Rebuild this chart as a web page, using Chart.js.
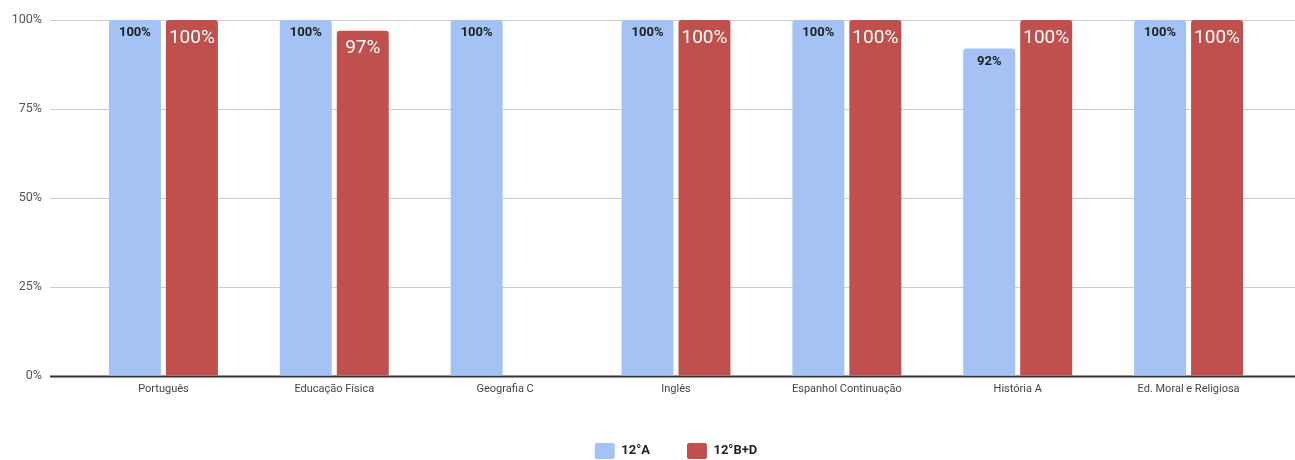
<!DOCTYPE html>
<html>
<head>
<meta charset="utf-8">
<script src="https://cdn.jsdelivr.net/npm/chart.js@4/dist/chart.umd.min.js"></script>
<style>
  html, body { margin: 0; padding: 0; background: #fff; overflow: hidden; }
  #wrap { width: 1295px; height: 469px; }
</style>
</head>
<body>
<div id="wrap"><canvas id="chartNotas" width="1295" height="469"></canvas></div>
<script>
const disciplinas = [
  "Português",
  "Educação Física",
  "Geografia C",
  "Inglês",
  "Espanhol Continuação",
  "História A",
  "Ed. Moral e Religiosa",
];
const turmaA = [100, 100, 100, 100, 100, 92, 100];
const turmaBD = [100, 97, null, 100, 100, 100, 100];
const yTicks = [0, 25, 50, 75, 100];

const AZUL = "#a4c2f4";
const VERMELHO = "#bf504d";

// linhas horizontais a toda a largura (como no Google Sheets)
const gridPlugin = {
  id: "gridLargo",
  beforeDatasetsDraw(chart) {
    const ctx = chart.ctx;
    const y = chart.scales.y;
    ctx.save();
    yTicks.forEach((t) => {
      const py = Math.round(y.getPixelForValue(t)) + 0.5;
      ctx.beginPath();
      ctx.strokeStyle = t === 0 ? "#333333" : "#cccccc";
      ctx.lineWidth = t === 0 ? 2 : 1;
      ctx.moveTo(50, py);
      ctx.lineTo(chart.width, py);
      ctx.stroke();
    });
    ctx.restore();
  },
};

// rótulos dentro das barras
const rotulosPlugin = {
  id: "rotulos",
  afterDatasetsDraw(chart) {
    const ctx = chart.ctx;
    ctx.save();
    ctx.textAlign = "center";
    ctx.textBaseline = "middle";
    chart.data.datasets.forEach((ds, i) => {
      const meta = chart.getDatasetMeta(i);
      meta.data.forEach((bar, j) => {
        const v = ds.data[j];
        if (v === null || v === undefined) return;
        if (i === 0) {
          ctx.font = "bold 13px Roboto";
          ctx.fillStyle = "#202124";
          ctx.fillText(v + "%", bar.x, bar.y + 13);
        } else {
          ctx.font = "19px Roboto";
          ctx.fillStyle = "#ffffff";
          ctx.fillText(v + "%", bar.x, bar.y + 18);
        }
      });
    });
    ctx.restore();
  },
};

const ctx = document.getElementById("chartNotas").getContext("2d");
const grafico = new Chart(ctx, {
  type: "bar",
  data: {
    labels: disciplinas,
    datasets: [
      {
        label: "12°A",
        data: turmaA,
        backgroundColor: AZUL,
        borderRadius: { topLeft: 3, topRight: 3 },
        borderSkipped: "start",
      },
      {
        label: "12°B+D",
        data: turmaBD,
        backgroundColor: VERMELHO,
        borderRadius: { topLeft: 3, topRight: 3 },
        borderSkipped: "start",
      },
    ],
  },
  options: {
    responsive: false,
    animation: false,
    layout: { padding: { top: 20, right: 21, left: 0, bottom: 0 } },
    categoryPercentage: 0.667,
    barPercentage: 0.912,
    plugins: {
      legend: {
        position: "bottom",
        fullSize: false,
        labels: {
          boxWidth: 20,
          boxHeight: 16,
          padding: 37,
          useBorderRadius: true,
          borderRadius: 2,
          color: "#222222",
          font: { family: "Roboto", size: 13, weight: "bold" },
        },
      },
      tooltip: { enabled: false },
    },
    scales: {
      x: {
        grid: { display: false, drawTicks: false },
        border: { display: false },
        ticks: {
          color: "#444444",
          padding: 7,
          maxRotation: 0,
          autoSkip: false,
          font: { family: "Roboto", size: 11 },
        },
        afterFit(scale) {
          scale.height = 30;
        },
      },
      y: {
        min: 0,
        max: 100,
        grid: { drawOnChartArea: false, tickLength: 32, tickColor: "rgba(0,0,0,0)" },
        border: { display: false },
        ticks: {
          stepSize: 25,
          padding: 4,
          color: "#555555",
          font: { family: "Roboto", size: 12.5 },
          callback: (v) => v + "%",
        },
        afterFit(scale) {
          scale.width = 78;
        },
      },
    },
  },
  plugins: [gridPlugin, rotulosPlugin],
});
</script>
</body>
</html>
